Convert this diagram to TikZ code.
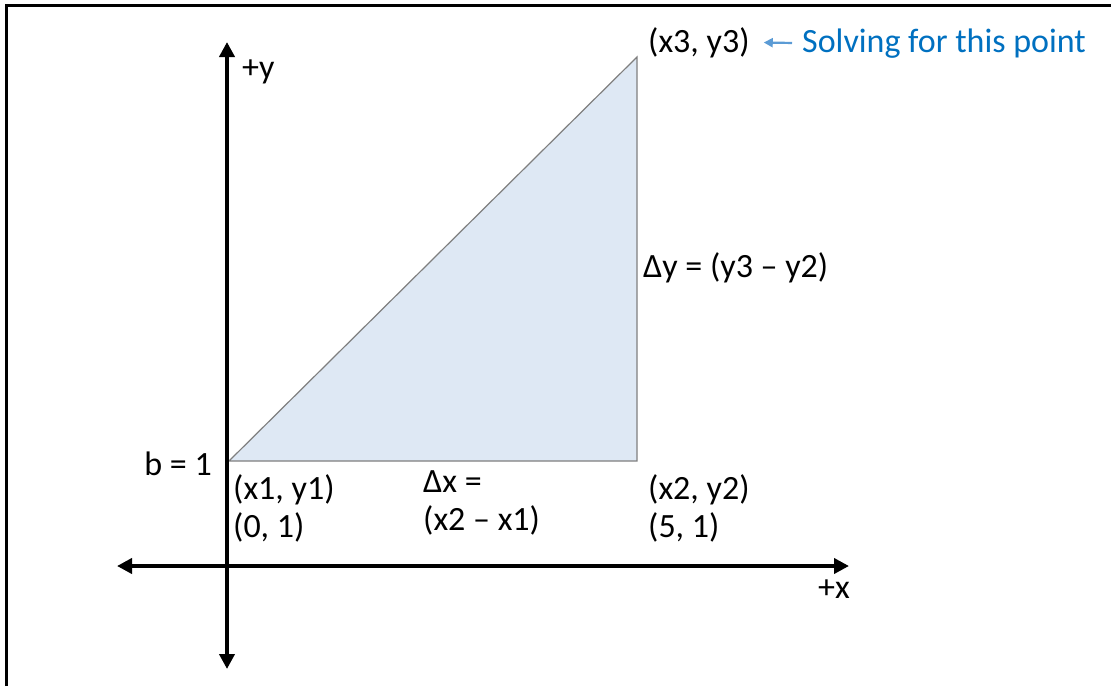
\documentclass[tikz,border=0pt]{standalone}
\usepackage{fontspec}
\setmainfont{Carlito}
\usetikzlibrary{arrows.meta}

\definecolor{fillblue}{HTML}{DEE8F4}
\definecolor{edgegray}{HTML}{7F7F7F}
\definecolor{textblue}{HTML}{0070C0}
\definecolor{arrowblue}{HTML}{5B9BD5}

\tikzset{
  axis/.style={line width=4pt,
    {Triangle[length=15pt,width=15pt]}-{Triangle[length=15pt,width=15pt]}},
  lbl/.style={inner sep=0pt, anchor=base west, font=\fontsize{34}{38}\selectfont},
  solvearrow/.style={draw=arrowblue, line width=2.2pt,
    -{Triangle[length=9pt,width=9pt]}, shorten <=10pt, shorten >=14pt}
}

\begin{document}
\begin{tikzpicture}[x=1pt,y=-1pt]
  \useasboundingbox (0,0) rectangle (1111,686);
  % frame (top and left only)
  \draw[line width=3pt] (6,686) -- (6,5) -- (1111,5);

  % points
  \coordinate (p1) at (229,461);
  \coordinate (p2) at (637,461);
  \coordinate (p3) at (637,57);
  \coordinate (ytop) at (227,42);
  \coordinate (ybot) at (227,669);
  \coordinate (xleft) at (117,566);
  \coordinate (xright) at (849,566);

  % triangle
  \filldraw[fill=fillblue, draw=edgegray, line width=1.2pt] (p1) -- (p2) -- (p3) -- cycle;

  % axes
  \draw[axis] (ybot) -- (ytop);
  \draw[axis] (xleft) -- (xright);

  % labels
  \node[lbl] (yplus) at (242,78) {+y};
  \node[lbl] (xplus) at (818,598) {+x};
  \node[lbl, anchor=base east] (bval) at (212,475) {b = 1};
  \node[lbl] (p1a) at (233,499) {(x1, y1)};
  \node[lbl] (p1b) at (233,537) {(0, 1)};
  \node[lbl] (dxa) at (423,492) {Δx =};
  \node[lbl] (dxb) at (423,530) {(x2 – x1)};
  \node[lbl] (p2a) at (648,499) {(x2, y2)};
  \node[lbl] (p2b) at (648,537) {(5, 1)};
  \node[lbl] (dy) at (643,277) {Δy = (y3 – y2)};
  \node[lbl] (p3a) at (648,52) {(x3, y3)};
  \node[lbl, text=textblue] (solve) at (802,52) {Solving for this point};

  \draw[solvearrow] (solve.west) -- (p3a.east);
\end{tikzpicture}
\end{document}
